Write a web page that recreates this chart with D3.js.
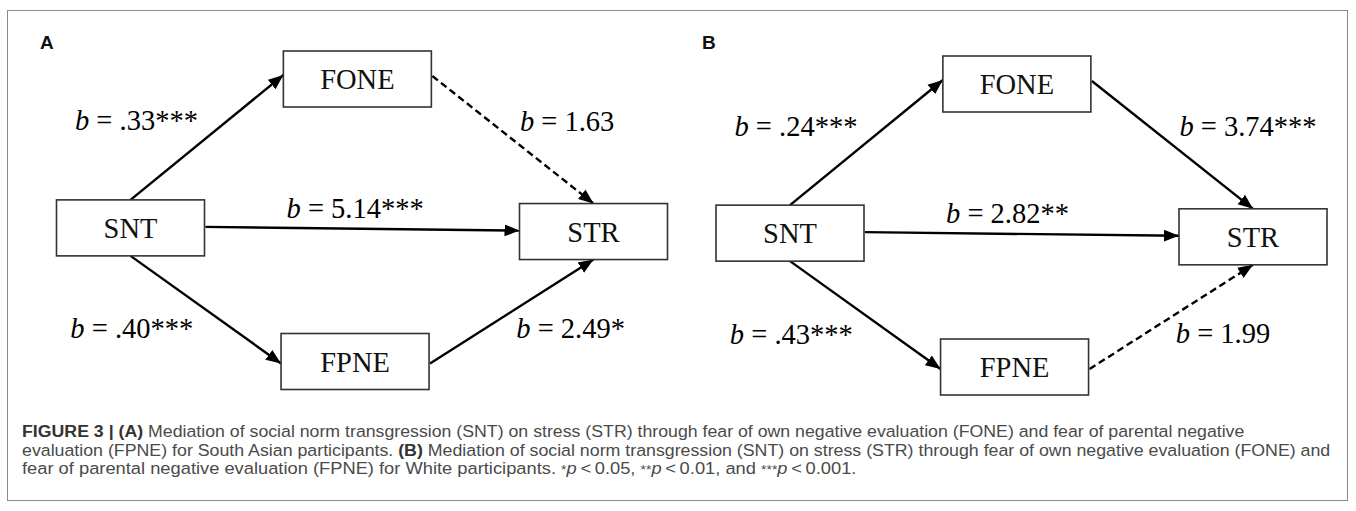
<!DOCTYPE html>
<html><head><meta charset="utf-8">
<script src="https://cdn.jsdelivr.net/npm/d3@7"></script>
<style>body{margin:0;background:#fff}</style>
</head><body>
<svg id="c" width="1356" height="511"></svg>
<script>
// ---- data ----
const panels = ["A", "B"];
const nodes = ["SNT", "FONE", "FPNE", "STR"];
const pathFrom = ["SNT", "FONE", "SNT", "SNT", "FPNE"];
const pathTo   = ["FONE", "STR", "STR", "FPNE", "STR"];
const coefA = [0.33, 1.63, 5.14, 0.40, 2.49];
const sigA  = ["***", "", "***", "***", "*"];
const coefB = [0.24, 3.74, 2.82, 0.43, 1.99];
const sigB  = ["***", "***", "**", "***", ""];
const captionLines = [
  [["FIGURE 3 | ", "b"], ["(A)", "b"], [" Mediation of social norm transgression (SNT) on stress (STR) through fear of own negative evaluation (FONE) and fear of parental negative", ""]],
  [["evaluation (FPNE) for South Asian participants. ", ""], ["(B)", "b"], [" Mediation of social norm transgression (SNT) on stress (STR) through fear of own negative evaluation (FONE) and", ""]],
  [["fear of parental negative evaluation (FPNE) for White participants. ", ""], ["*", "s"], ["p", "i"], ["\u2009<\u20090.05, ", ""], ["**", "s"], ["p", "i"], ["\u2009<\u20090.01, and ", ""], ["***", "s"], ["p", "i"], ["\u2009<\u20090.001.", ""]]
];

// ---- layout ----
const panelRange = {
  A: {x: [130.5, 593.5], y: [79, 361.5], label: [40, 49]},
  B: {x: [790, 1253], y: [84, 367], label: [702, 49]}
};
const nodeGrid = {SNT: [0, 0.527], FONE: [0.49, 0], FPNE: [0.485, 1], STR: [1, 0.54]};
const boxW = 148, boxH = 56;
const edgeSides = [
  ["top", 0, "left", -4],
  ["right", -3, "top", 0],
  ["right", -1, "left", -1],
  ["bottom", 0, "left", 2],
  ["right", 2, "bottom", 0]
];
const labelPlace = [
  ["end", -9, -7],
  ["start", 7, -9],
  ["start", -76, -10.5],
  ["end", -12.5, 28.5],
  ["start", 4.5, 26.5]
];

const svg = d3.select("#c");
svg.append("rect").attr("x", 7.5).attr("y", 10.5).attr("width", 1340).attr("height", 490)
  .attr("fill", "none").attr("stroke", "#8a8a8a").attr("stroke-width", 1);

const defs = svg.append("defs");
defs.append("marker").attr("id", "arr").attr("markerUnits", "userSpaceOnUse")
  .attr("viewBox", "0 -7 15 14").attr("refX", 15).attr("refY", 0)
  .attr("markerWidth", 15).attr("markerHeight", 14).attr("orient", "auto")
  .append("path").attr("d", "M0,-6L15,0L0,6Z").attr("fill", "#000");

const fmt = d3.format(".2f");
const fmtCoef = v => v < 1 ? fmt(v).replace(/^0/, "") : fmt(v);

panels.forEach(p => {
  const r = panelRange[p];
  const x = d3.scaleLinear().domain([0, 1]).range(r.x);
  const y = d3.scaleLinear().domain([0, 1]).range(r.y);
  const coef = p === "A" ? coefA : coefB;
  const sig = p === "A" ? sigA : sigB;
  const g = svg.append("g");

  g.append("text").attr("x", r.label[0]).attr("y", r.label[1])
    .attr("font-family", "Liberation Sans, Arial, sans-serif").attr("font-weight", "bold")
    .attr("font-size", 19).attr("fill", "#111").text(p);

  const cx = n => x(nodeGrid[n][0]), cy = n => y(nodeGrid[n][1]);
  const anchor = (n, side, off) => {
    if (side === "top") return [cx(n) + off, cy(n) - boxH / 2];
    if (side === "bottom") return [cx(n) + off, cy(n) + boxH / 2];
    if (side === "left") return [cx(n) - boxW / 2, cy(n) + off];
    return [cx(n) + boxW / 2 + 1, cy(n) + off];
  };

  pathFrom.forEach((f, i) => {
    const t = pathTo[i];
    const s = anchor(f, edgeSides[i][0], edgeSides[i][1]);
    const e = anchor(t, edgeSides[i][2], edgeSides[i][3]);
    const ns = sig[i] === "";
    g.append("line").attr("x1", s[0]).attr("y1", s[1]).attr("x2", e[0]).attr("y2", e[1])
      .attr("stroke", "#000").attr("stroke-width", 2.4)
      .attr("stroke-dasharray", ns ? "7,4" : null)
      .attr("marker-end", "url(#arr)");
    const mx = (s[0] + e[0]) / 2, my = (s[1] + e[1]) / 2;
    const lp = labelPlace[i];
    const tx = g.append("text").attr("x", mx + lp[1]).attr("y", my + lp[2])
      .attr("text-anchor", lp[0])
      .attr("font-family", "Liberation Serif, Times New Roman, serif")
      .attr("font-size", 28.5).attr("fill", "#000");
    tx.append("tspan").attr("font-style", "italic").text("b");
    tx.append("tspan").text(" = " + fmtCoef(coef[i]) + sig[i]);
  });

  nodes.forEach(n => {
    g.append("rect").attr("x", cx(n) - boxW / 2).attr("y", cy(n) - boxH / 2)
      .attr("width", boxW).attr("height", boxH)
      .attr("fill", "#fff").attr("stroke", "#333").attr("stroke-width", 1.6);
    g.append("text").attr("x", cx(n)).attr("y", cy(n) + 10)
      .attr("text-anchor", "middle")
      .attr("font-family", "Liberation Serif, Times New Roman, serif")
      .attr("font-size", 28.5).attr("fill", "#111").text(n);
  });
});

// caption (condensed by horizontal scaling to the reference widths)
const capX = 22, capY = [437.5, 456, 474.5], capW = [1223, 1310, 835];
captionLines.forEach((line, li) => {
  const t = svg.append("text").attr("x", 0).attr("y", capY[li])
    .attr("font-family", "Liberation Sans, Arial, sans-serif")
    .attr("font-size", 17).attr("fill", "#4a4a4a");
  line.forEach(([s, st]) => {
    const ts = t.append("tspan").text(s);
    if (st === "b") ts.attr("font-weight", "bold").attr("fill", "#333");
    if (st === "i") ts.attr("font-style", "italic");
    if (st === "s") ts.attr("font-size", 13);
  });
  const nat = t.node().getComputedTextLength();
  t.attr("transform", `translate(${capX},0) scale(${capW[li] / nat},1)`);
});
</script>
</body></html>
